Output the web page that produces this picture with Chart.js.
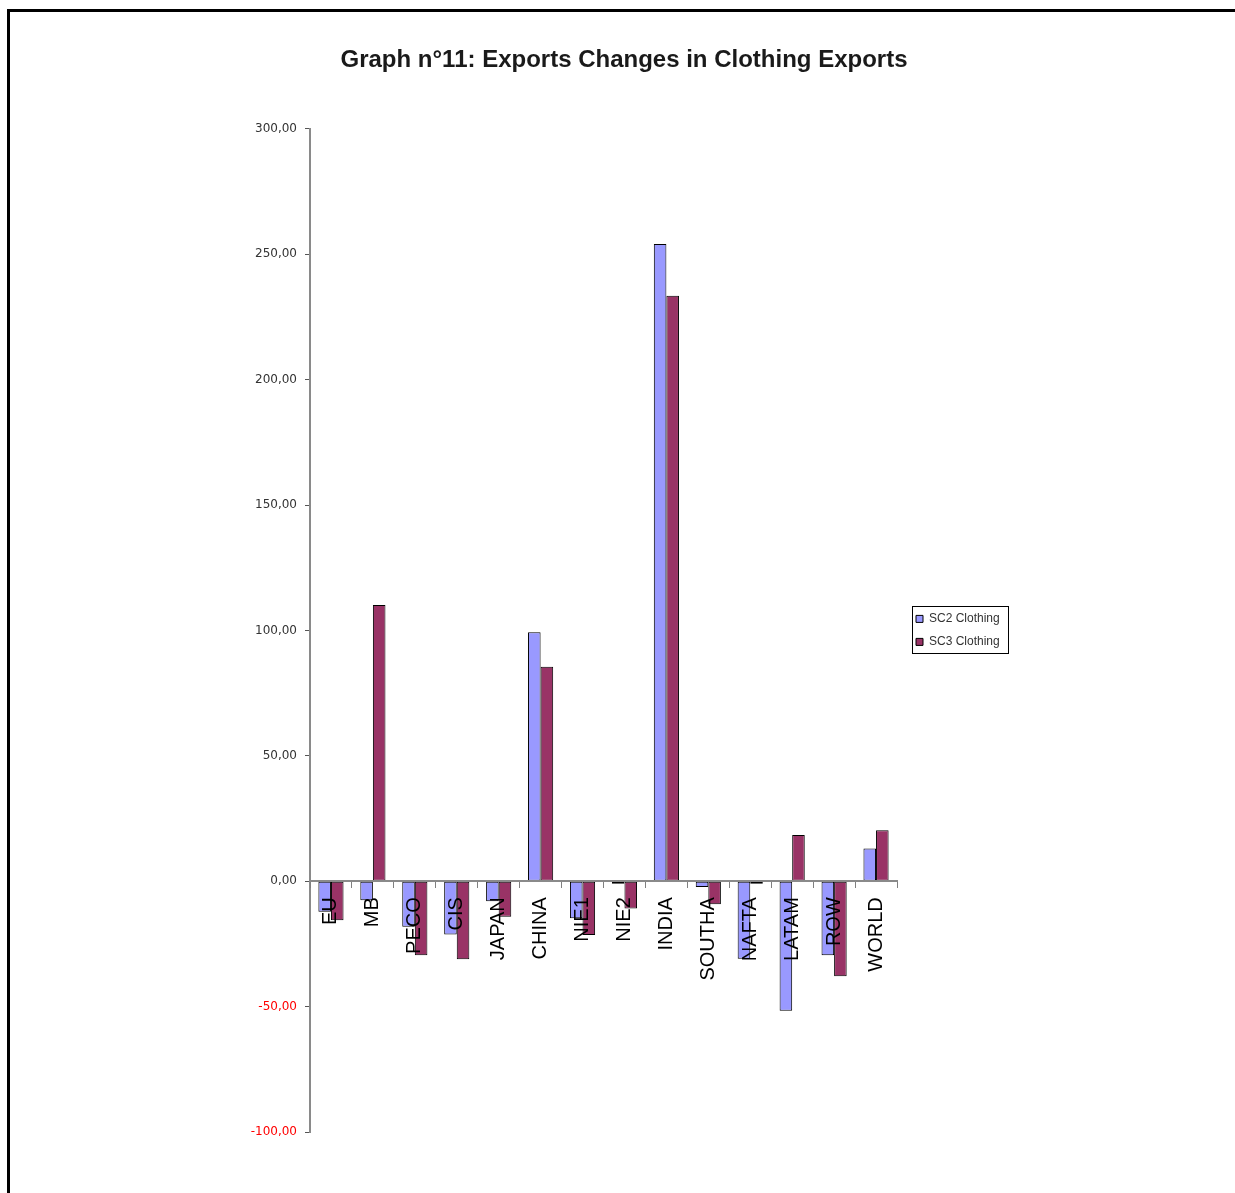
<!DOCTYPE html>
<html>
<head>
<meta charset="utf-8">
<title>Graph n°11: Exports Changes in Clothing Exports</title>
<script src="https://cdn.jsdelivr.net/npm/chart.js@4/dist/chart.umd.min.js"></script>
<style>
  html, body { margin: 0; padding: 0; background: #ffffff; }
  body { width: 1235px; height: 1193px; position: relative; overflow: hidden; }
  #frame {
    position: absolute; left: 7px; top: 9px; width: 1300px; height: 1300px;
    border-left: 3px solid #000; border-top: 3px solid #000; box-sizing: border-box;
  }
  #wrap { position: absolute; left: 0; top: 0; width: 1235px; height: 1193px; }
</style>
</head>
<body>
<div id="frame"></div>
<div id="wrap"><canvas id="chart" width="1235" height="1193"></canvas></div>
<script>
// Regions and percentage change in clothing exports under each scenario
const regions = ['EU', 'MB', 'PECO', 'CIS', 'JAPAN', 'CHINA', 'NIE1', 'NIE2', 'INDIA', 'SOUTHA', 'NAFTA', 'LATAM', 'ROW', 'WORLD'];
const sc2Clothing = [-12.2, -7.6, -18.2, -21.3, -8.0, 99.3, -14.8, -1.0, 254.1, -2.3, -30.9, -51.7, -29.5, 13.0];
const sc3Clothing = [-15.6, 110.1, -29.5, -31.1, -14.2, 85.5, -21.5, -10.9, 233.4, -9.2, -1.0, 18.4, -37.9, 20.3];
const seriesNames = ['SC2 Clothing', 'SC3 Clothing'];
const yTicks = [-100, -50, 0, 50, 100, 150, 200, 250, 300];

const fmt = v => v.toFixed(2).replace('.', ',');

// Legend sits beside the plot, vertically centred on it, inside a thin box
const legendFrame = {
  id: 'legendFrame',
  afterInit(chart) {
    const lg = chart.legend;
    const origFit = lg.fit;
    lg.fit = function () { origFit.call(this); this.width = 113; };
  },
  afterLayout(chart) {
    const lg = chart.legend;
    const area = chart.chartArea;
    lg.top = area.top;
    lg.bottom = area.bottom;
    lg.height = area.bottom - area.top;
    lg.left += 8;
    lg.right += 8;
  },
  afterDraw(chart) {
    const lg = chart.legend;
    if (!lg || !lg.legendHitBoxes || !lg.legendHitBoxes.length) return;
    const hb = lg.legendHitBoxes;
    const first = hb[0], last = hb[hb.length - 1];
    const ctx = chart.ctx;
    const x = Math.round(first.left) - 3.5;
    const y = Math.round(first.top) - 6.5;
    const w = 96;
    const h = Math.round(last.top + last.height - first.top) + 12;
    ctx.save();
    ctx.strokeStyle = '#000';
    ctx.lineWidth = 1;
    ctx.strokeRect(x, y, w, h);
    ctx.restore();
  }
};

new Chart(document.getElementById('chart'), {
  type: 'bar',
  data: {
    labels: regions,
    datasets: [
      { label: seriesNames[0], data: sc2Clothing, backgroundColor: '#9999FF', borderColor: '#000000', borderWidth: 1, borderSkipped: false },
      { label: seriesNames[1], data: sc3Clothing, backgroundColor: '#993366', borderColor: '#000000', borderWidth: 1, borderSkipped: false }
    ]
  },
  options: {
    responsive: false,
    animation: false,
    events: [],
    categoryPercentage: 0.6,
    barPercentage: 1.0,
    layout: { padding: { left: 238, right: 225, top: 20, bottom: 61 } },
    plugins: {
      title: {
        display: true,
        text: 'Graph n°11: Exports Changes in Clothing Exports',
        color: '#1a1a1a',
        font: { family: 'Arial, "Liberation Sans", sans-serif', size: 24, weight: 'bold' },
        padding: { top: 26, bottom: 54 }
      },
      legend: {
        display: true,
        position: 'right',
        align: 'center',
        labels: {
          boxWidth: 7,
          boxHeight: 7,
          padding: 11,
          color: '#333333',
          font: { family: 'Arial, "Liberation Sans", sans-serif', size: 12 }
        }
      },
      tooltip: { enabled: false }
    },
    scales: {
      x: {
        type: 'category',
        position: { y: 0 },
        offset: true,
        grid: { display: true, offset: true, drawOnChartArea: false, drawTicks: true, tickLength: 6, color: '#808080', lineWidth: 1, z: 1 },
        border: { display: true, color: '#8a8a8a', width: 2, z: 1 },
        ticks: {
          z: 1,
          autoSkip: false,
          minRotation: 90,
          maxRotation: 90,
          padding: 10,
          color: '#000000',
          font: { family: 'Arial, "Liberation Sans", sans-serif', size: 20 }
        }
      },
      y: {
        type: 'linear',
        position: 'left',
        min: -100,
        max: 300,
        afterFit(scale) { scale.width = 72; },
        afterBuildTicks(scale) { scale.ticks = yTicks.map(v => ({ value: v })); },
        grid: { display: true, drawOnChartArea: false, drawTicks: true, tickLength: 5, color: '#555555', lineWidth: 1 },
        border: { display: true, color: '#8a8a8a', width: 2 },
        ticks: {
          padding: 8,
          callback: v => fmt(v),
          color: ctx => (ctx.tick && ctx.tick.value < 0 ? '#FF0000' : '#333333'),
          font: { family: '"DejaVu Sans", Arial, sans-serif', size: 12 }
        }
      }
    }
  },
  plugins: [legendFrame]
});
</script>
</body>
</html>
